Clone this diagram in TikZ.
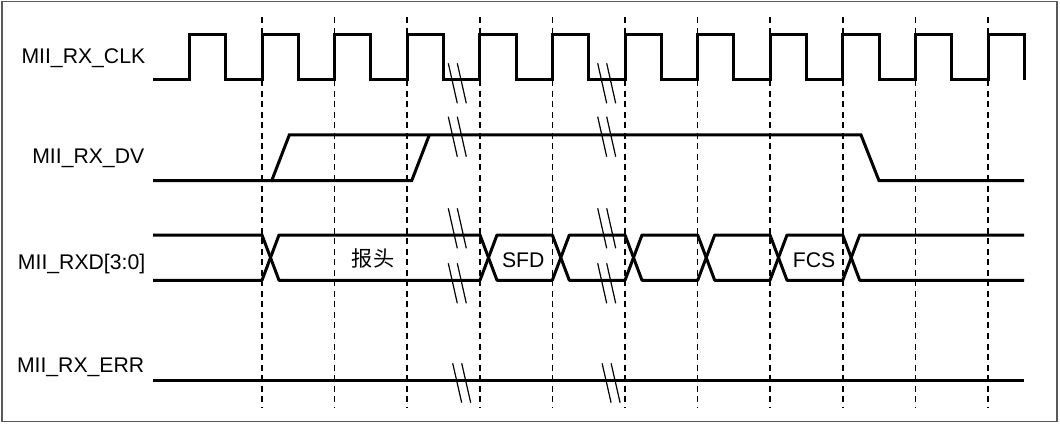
\documentclass[tikz,border=0pt]{standalone}
\usepackage{fontspec}
\setmainfont{Liberation Sans}
\newfontfamily\cjkfont{Noto Sans CJK SC}

\begin{document}
\begin{tikzpicture}[x=0.75pt,y=-0.75pt,
  wave/.style={line width=2.25pt},
  bus/.style={line width=2.25pt,line join=round},
  guide/.style={line width=1.1pt,dash pattern=on 4.5pt off 3.4pt},
  brk/.style={line width=0.9pt},
  siglabel/.style={anchor=base east,inner sep=0pt,font=\fontsize{15.9}{19}\selectfont},
  fieldlabel/.style={anchor=base,inner sep=0pt,font=\fontsize{15.9}{19}\selectfont}]
  \useasboundingbox (0,0) rectangle (1060,424);
  % frame
  \draw[black!65,line width=1.1pt] (2,1.5) rectangle (1057,421.5);
  % sampling edges
  \foreach \k in {0,...,10}
    \draw[guide] ({262+72.6*\k},17) -- ({262+72.6*\k},407);
  % signal names
  \node[siglabel] (clk) at (145.5,63.5) {MII\_RX\_CLK};
  \node[siglabel] (dv) at (144.5,164) {MII\_RX\_DV};
  \node[siglabel] (rxd) at (145.5,269) {MII\_RXD[3:0]};
  \node[siglabel] (err) at (144.5,372.3) {MII\_RX\_ERR};
  % clock
  \draw[wave] (153,80) \foreach \k in {0,...,11} {
    -- ({189.4+72.6*\k},80) -- ++(0,-45) -- ++(36.3,0) -- ++(0,45)};
  % data valid, earliest and latest rise
  \draw[wave] (153,180.7) -- (271.7,180.7) -- (289.3,135) -- (861,135)
    -- (879,180.7) -- (1024,180.7);
  \draw[wave] (271.7,180.7) -- (411.7,180.7) -- (429.3,135);
  % data bus
  \draw[bus] (153,235) -- (262,235) -- (270.5,257.65) -- (262,280.3) -- (153,280.3);
  \foreach \a/\b in {262/480,480/552.3,552.3/625,625/697.7,697.7/770,770/842.7}
    \draw[bus] ({\a+8.5},257.65) -- ({\a+17},235) -- (\b,235) -- ({\b+8.5},257.65)
      -- (\b,280.3) -- ({\a+17},280.3) -- cycle;
  \draw[bus] (1024,235) -- (859.7,235) -- (851.2,257.65) -- (859.7,280.3) -- (1024,280.3);
  \node[fieldlabel] (pre) at (373,266) {\cjkfont 报头};
  \node[fieldlabel] (sfd) at (523.3,267.7) {SFD};
  \node[fieldlabel] (fcs) at (814,267.7) {FCS};
  % receive error
  \draw[wave] (153,380.7) -- (1024,380.7);
  % time breaks
  \foreach \bx in {448.3,597.7} {
    \foreach \ya/\yb/\dx in {63.3/103.3/0,116.7/156.7/0,208.3/248.3/0,263.3/303.3/0,363.3/402.7/4.4} {
      \draw[brk] ({\bx+\dx},\ya) -- ({\bx+\dx+9},\yb);
      \draw[brk] ({\bx+\dx+9},\ya) -- ({\bx+\dx+18},\yb);
    }
  }
\end{tikzpicture}
\end{document}
